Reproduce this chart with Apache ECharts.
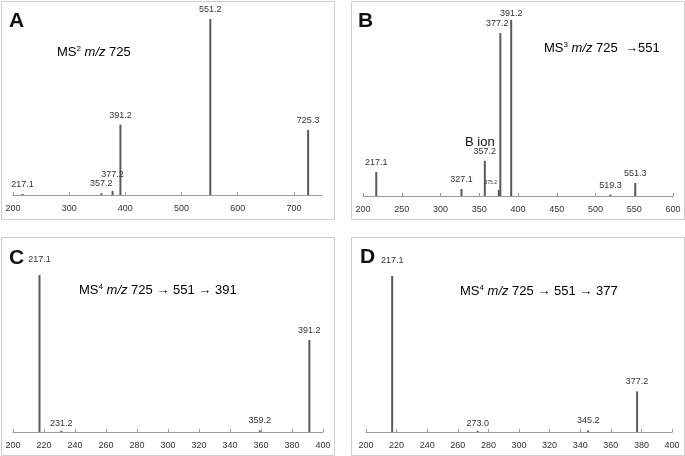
<!DOCTYPE html>
<html><head><meta charset="utf-8">
<script src="https://cdn.jsdelivr.net/npm/echarts@6/dist/echarts.min.js"></script>
<style>html,body{margin:0;padding:0;background:#fff}#c{width:685px;height:456px}</style>
</head><body><div id="c"></div>
<script>
// ---- data ----
const mzA = [217.1, 357.2, 377.2, 391.2, 551.2, 725.3];
const intA = [0.6, 1.0, 2.3, 40, 100, 37];
const mzB = [217.1, 327.1, 357.2, 375.2, 377.2, 391.2, 519.3, 551.3];
const intB = [13.6, 4, 20, 3.5, 92.6, 100, 0.8, 7.4];
const mzC = [217.1, 231.2, 359.2, 391.2];
const intC = [100, 0.8, 1, 58.6];
const mzD = [217.1, 273.0, 345.2, 377.2];
const intD = [100, 0.8, 1, 26];
// axis ranges [min, max, interval]
const axisA = [200, 750, 100];
const axisB = [200, 600, 50];
const axisC = [200, 400, 20];
const axisD = [200, 400, 20];

// ---- layout / style ----
const FONT = 'Liberation Sans';
const grids = [
  {left: 13, top: 19, width: 309, height: 176},
  {left: 363, top: 20, width: 310, height: 176},
  {left: 13, top: 275, width: 310, height: 157},
  {left: 366, top: 276, width: 306, height: 156}
];
const labelTweaks = [
  {'377.2': {distance: 12}},
  {'391.2': {distance: 2}, '377.2': {offset: [-3, 0]}, '375.2': {fontSize: 5, offset: [-8, 0]}},
  {'217.1': {distance: 11}, '231.2': {distance: 3}},
  {'217.1': {distance: 11}, '273.0': {distance: 3}}
];
const panels = [[mzA, intA, axisA], [mzB, intB, axisB], [mzC, intC, axisC], [mzD, intD, axisD]];

const xAxes = [], yAxes = [], series = [];
panels.forEach((p, i) => {
  const [mz, it, ax] = p;
  xAxes.push({
    type: 'value', gridIndex: i, min: ax[0], max: ax[1], interval: ax[2],
    splitLine: {show: false},
    axisLine: {show: true, lineStyle: {color: '#9a9a9a', width: 1}},
    axisTick: {show: true, inside: true, length: 3, lineStyle: {color: '#9a9a9a'}},
    axisLabel: {fontFamily: FONT, fontSize: 9, color: '#333', margin: 9, showMaxLabel: i === 0 ? false : true}
  });
  yAxes.push({type: 'value', gridIndex: i, min: 0, max: 100, show: false});
  series.push({
    type: 'bar', xAxisIndex: i, yAxisIndex: i, barWidth: 2,
    itemStyle: {color: '#5a5a5a'},
    label: {show: true, position: 'top', distance: 5, fontFamily: FONT, fontSize: 9, color: '#333',
      formatter: (d) => d.value[0].toFixed(1)},
    data: mz.map((m, k) => {
      const key = m.toFixed(1);
      const t = labelTweaks[i][key];
      const item = {value: [m, it[k]]};
      if (t) item.label = t;
      return item;
    }),
    animation: false
  });
});

const boxes = [[1, 1], [351, 1], [1, 237], [351, 237]];
const letters = ['A', 'B', 'C', 'D'];
const letterPos = [[9, 21], [358, 21], [9, 258], [360, 257]];
const graphics = [];
boxes.forEach((b, i) => {
  graphics.push({type: 'rect', shape: {x: b[0] + 0.5, y: b[1] + 0.5, width: 333, height: 218},
    style: {fill: null, stroke: '#cfcfcf', lineWidth: 1}, silent: true});
  graphics.push({type: 'text', x: letterPos[i][0], y: letterPos[i][1],
    style: {text: letters[i], font: 'bold 21px "' + FONT + '"', fill: '#111', textVerticalAlign: 'middle'}});
});
const rich = {
  n: {fontFamily: FONT, fontSize: 13, color: '#111'},
  s: {fontFamily: FONT, fontSize: 8, color: '#111', verticalAlign: 'top', padding: [0, 0, 6, 0]},
  i: {fontFamily: FONT, fontSize: 13, fontStyle: 'italic', color: '#111'}
};
const titles = [
  [57, 52, '{n|MS}{s|2}{n| }{i|m/z}{n| 725}'],
  [544, 48, '{n|MS}{s|3}{n| }{i|m/z}{n| 725  →551}'],
  [79, 290, '{n|MS}{s|4}{n| }{i|m/z}{n| 725 → 551 → 391}'],
  [460, 291, '{n|MS}{s|4}{n| }{i|m/z}{n| 725 → 551 → 377}']
];
titles.forEach(t => {
  graphics.push({type: 'text', x: t[0], y: t[1],
    style: {text: t[2], rich: rich, textVerticalAlign: 'middle', font: '13px "' + FONT + '"'}});
});
graphics.push({type: 'text', x: 465, y: 142,
  style: {text: 'B ion', font: '13px "' + FONT + '"', fill: '#111', textVerticalAlign: 'middle'}});

const chart = echarts.init(document.getElementById('c'), null, {renderer: 'canvas'});
chart.setOption({
  animation: false,
  grid: grids,
  xAxis: xAxes,
  yAxis: yAxes,
  series: series,
  graphic: graphics
});
</script></body></html>
